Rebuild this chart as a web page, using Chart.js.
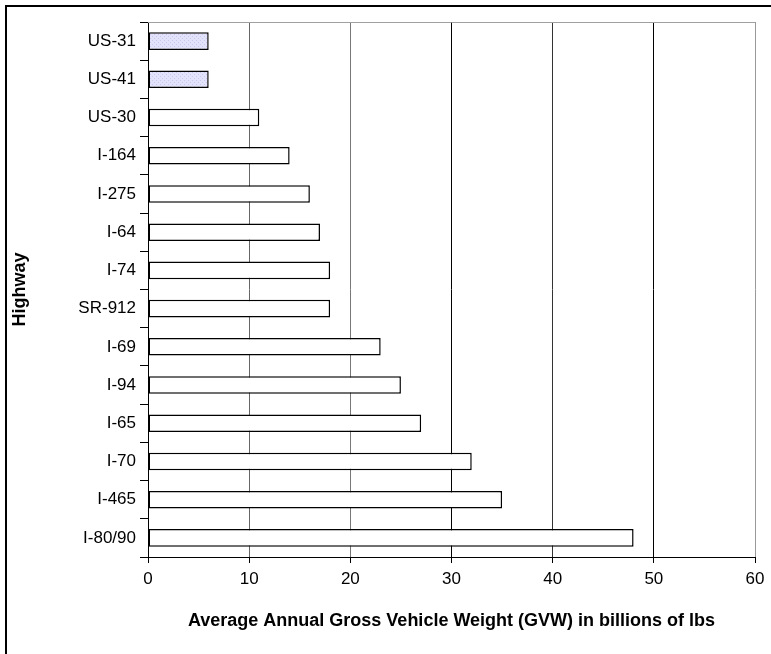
<!DOCTYPE html>
<html>
<head>
<meta charset="utf-8">
<script src="https://cdn.jsdelivr.net/npm/chart.js@4/dist/chart.umd.min.js"></script>
<style>
  body { margin: 0; background: #fff; overflow: hidden; }
  #frame { position: absolute; left: 5px; top: 5px; width: 900px; height: 900px; border: 2px solid #000; }
  #wrap { position: absolute; left: 0; top: 0; width: 771px; height: 654px; }
</style>
</head>
<body>
<div id="frame"></div>
<div id="wrap"><canvas id="chart" width="771" height="654"></canvas></div>
<script>
// highways, top to bottom
const highways = ['US-31', 'US-41', 'US-30', 'I-164', 'I-275', 'I-64', 'I-74', 'SR-912',
                  'I-69', 'I-94', 'I-65', 'I-70', 'I-465', 'I-80/90'];
// average annual GVW, billions of lbs
const gvw = [6, 6, 11, 14, 16, 17, 18, 18, 23, 25, 27, 32, 35, 48];
// the two shaded bars
const shaded = ['US-31', 'US-41'];
const xTicks = [0, 10, 20, 30, 40, 50, 60];

const FONT = 'Liberation Sans, Arial, sans-serif';

// thin grey line along the top of the plot area
const topLine = {
    id: 'topLine',
    beforeDatasetsDraw(chart) {
        const a = chart.chartArea, c = chart.ctx;
        c.save();
        c.strokeStyle = '#a0a0a0';
        c.lineWidth = 1;
        c.beginPath();
        c.moveTo(a.left, Math.round(a.top) + 0.5);
        c.lineTo(a.right, Math.round(a.top) + 0.5);
        c.stroke();
        c.restore();
    }
};

// light lavender with a faint dot texture, like the original fill
function dotted() {
    const p = document.createElement('canvas');
    p.width = 4; p.height = 4;
    const c = p.getContext('2d');
    c.fillStyle = '#e2e2fa';
    c.fillRect(0, 0, 4, 4);
    c.fillStyle = '#c8c8ee';
    c.fillRect(0, 0, 1, 1);
    c.fillRect(2, 2, 1, 1);
    return c.createPattern(p, 'repeat');
}
const lavender = dotted();

const gridColors = { 0: '#000', 10: '#666', 20: '#777', 30: '#000', 40: '#333', 50: '#000', 60: '#999' };

new Chart(document.getElementById('chart'), {
    type: 'bar',
    data: {
        labels: highways,
        datasets: [{
            data: gvw,
            backgroundColor: highways.map(h => shaded.includes(h) ? lavender : '#ffffff'),
            borderColor: '#000',
            borderWidth: 1.5,
            borderSkipped: false,
            barPercentage: 0.46,
            categoryPercentage: 1
        }]
    },
    options: {
        indexAxis: 'y',
        responsive: false,
        animation: false,
        layout: { padding: { left: 0, right: 16, top: 22, bottom: 0 } },
        plugins: { legend: { display: false }, tooltip: { enabled: false } },
        scales: {
            x: {
                min: 0,
                max: 60,
                afterBuildTicks: s => { s.ticks = xTicks.map(v => ({ value: v })); },
                afterFit: s => { s.height = 97; },
                ticks: { color: '#000', font: { family: FONT, size: 17 }, padding: 6 },
                grid: {
                    color: ctx => gridColors[ctx.tick && ctx.tick.value] || '#555',
                    tickColor: '#000',
                    tickLength: 6,
                    lineWidth: 1
                },
                border: { color: '#000', width: 1 },
                title: {
                    display: true,
                    text: 'Average Annual Gross Vehicle Weight (GVW) in billions of lbs',
                    color: '#000',
                    font: { family: FONT, size: 18, weight: 'bold' },
                    padding: { top: 0, bottom: 22 }
                }
            },
            y: {
                afterFit: s => { s.width = 148; },
                ticks: { color: '#000', font: { family: FONT, size: 17 }, padding: 4 },
                grid: {
                    offset: true,
                    drawOnChartArea: false,
                    tickColor: '#000',
                    tickLength: 8
                },
                border: { color: '#000', width: 1 },
                title: {
                    display: true,
                    text: 'Highway',
                    color: '#000',
                    font: { family: FONT, size: 18, weight: 'bold' },
                    padding: { top: 9, bottom: 0 }
                }
            }
        }
    },
    plugins: [topLine]
});
</script>
</body>
</html>
